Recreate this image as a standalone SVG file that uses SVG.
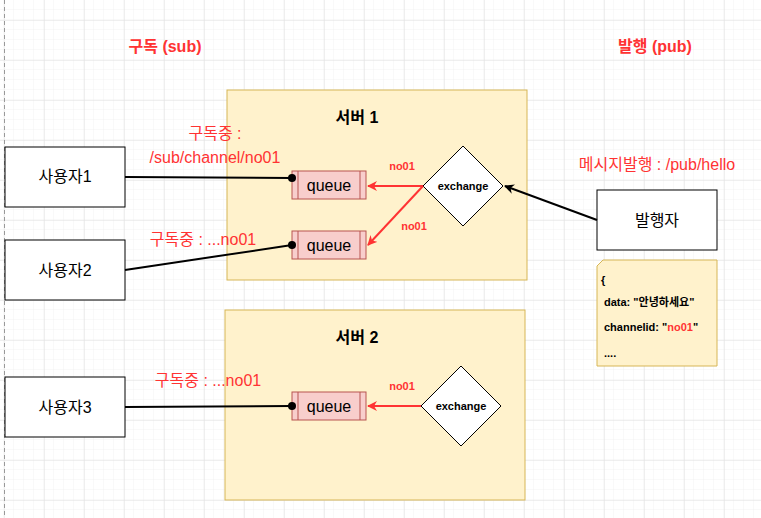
<svg xmlns="http://www.w3.org/2000/svg" width="761" height="518" viewBox="0 0 761 518">
<defs>
<pattern id="minor" x="4" y="0" width="10" height="10" patternUnits="userSpaceOnUse"><path d="M10 0V10M0 10H10" stroke="#f2f2f2" stroke-width="1" fill="none"/></pattern>
<pattern id="major" x="4" y="20" width="40" height="40" patternUnits="userSpaceOnUse"><path d="M0 0V40M0 0H40" stroke="#e0e0e0" stroke-width="1" fill="none"/></pattern>
<marker id="ab" viewBox="0 0 10 10" refX="9" refY="5" markerWidth="10" markerHeight="10" markerUnits="userSpaceOnUse" orient="auto"><path d="M0 0L10 5L0 10L3 5Z" fill="#000"/></marker>
<marker id="ar" viewBox="0 0 10 10" refX="9" refY="5" markerWidth="10" markerHeight="10" markerUnits="userSpaceOnUse" orient="auto"><path d="M0 0L10 5L0 10L3 5Z" fill="#ff3333"/></marker>
<marker id="dot" viewBox="0 0 10 10" refX="5" refY="5" markerWidth="8" markerHeight="8" markerUnits="userSpaceOnUse"><circle cx="5" cy="5" r="5" fill="#000"/></marker>
</defs>
<style>
text{font-family:"Liberation Sans",Arial,"Noto Sans CJK KR",sans-serif}
.box{fill:#fff;stroke:#000;stroke-width:1}
.srv{fill:#fff2cc;stroke:#d6b656;stroke-width:1}
.q{fill:#f8cecc;stroke:#b85450;stroke-width:1}
.t{font-size:16px;text-anchor:middle;fill:#000}
.red{fill:#ff3333}
.bl{stroke:#000;stroke-width:2;fill:none}
.rl{stroke:#ff3333;stroke-width:2;fill:none}
.sm{font-size:11px;font-weight:bold}
</style>
<rect width="761" height="518" fill="#fff"/>
<rect width="761" height="518" fill="url(#minor)"/>
<rect width="761" height="518" fill="url(#major)"/>
<line x1="4.5" y1="0" x2="4.5" y2="518" stroke="#999" stroke-dasharray="4 3"/>
<text x="165" y="52" class="t red" font-weight="bold">구독 (sub)</text>
<text x="655" y="52" class="t red" font-weight="bold">발행 (pub)</text>
<g id="server1"><rect x="227" y="90" width="300" height="190" class="srv"/><text x="357" y="123" class="t" font-size="20" font-weight="bold">서버 1</text></g>
<g id="server2"><rect x="225" y="310" width="300" height="190" class="srv"/><text x="357" y="343" class="t" font-size="20" font-weight="bold">서버 2</text></g>
<g id="user1"><rect x="5" y="147" width="120" height="60" class="box"/><text x="65" y="182" class="t">사용자1</text></g>
<g id="user2"><rect x="5" y="240" width="120" height="60" class="box"/><text x="65" y="276" class="t">사용자2</text></g>
<g id="user3"><rect x="5" y="377" width="120" height="60" class="box"/><text x="65" y="413" class="t">사용자3</text></g>
<g id="publisher"><rect x="597" y="190" width="120" height="60" class="box"/><text x="657" y="226" class="t">발행자</text></g>
<g id="queue1"><rect x="292" y="171" width="74" height="28" class="q"/><path d="M298 171V199M360 171V199" stroke="#b85450"/><text x="329" y="191" class="t">queue</text></g>
<g id="queue2"><rect x="292" y="231" width="74" height="28" class="q"/><path d="M298 231V259M360 231V259" stroke="#b85450"/><text x="329" y="251" class="t">queue</text></g>
<g id="queue3"><rect x="292" y="392" width="74" height="28" class="q"/><path d="M298 392V420M360 392V420" stroke="#b85450"/><text x="329" y="412" class="t">queue</text></g>
<g id="exchange1"><path d="M463 146L503 186L463 226L423 186Z" class="box"/><text x="463" y="190" class="t sm">exchange</text></g>
<g id="exchange2"><path d="M461 366L501 406L461 446L421 406Z" class="box"/><text x="461" y="410" class="t sm">exchange</text></g>
<g id="note"><path d="M603 260H717V366H597V266Z" fill="#fff2cc" stroke="#d6b656"/>
<text x="601" y="284" font-size="11" font-weight="bold">{</text>
<text x="604" y="306" font-size="11" font-weight="bold">data: "안녕하세요"</text>
<text x="604" y="331" font-size="11" font-weight="bold">channelid: "<tspan fill="#ff3333">no01</tspan>"</text>
<text x="604" y="357" font-size="11" font-weight="bold">....</text></g>
<g id="connectors">
<path d="M125 177L292 178" class="bl" marker-end="url(#dot)"/>
<path d="M125 270L292 245" class="bl" marker-end="url(#dot)"/>
<path d="M125 407L292 406" class="bl" marker-end="url(#dot)"/>
<path d="M597 220L505 186" class="bl" marker-end="url(#ab)"/>
<path d="M423 186H368" class="rl" marker-end="url(#ar)"/>
<path d="M423 186L368 245" class="rl" marker-end="url(#ar)"/>
<path d="M421 406H368" class="rl" marker-end="url(#ar)"/>
</g>
<g fill="#ff3333">
<text x="215" y="139" class="t red">구독중 :</text>
<text x="215" y="163" class="t red">/sub/channel/no01</text>
<text x="203" y="245" class="t red">구독중 : ...no01</text>
<text x="208" y="386" class="t red">구독중 : ...no01</text>
<text x="657" y="170" class="t red">메시지발행 : /pub/hello</text>
<text x="402" y="170" class="t red sm">no01</text>
<text x="414" y="230" class="t red sm">no01</text>
<text x="402" y="390" class="t red sm">no01</text>
</g>
</svg>
